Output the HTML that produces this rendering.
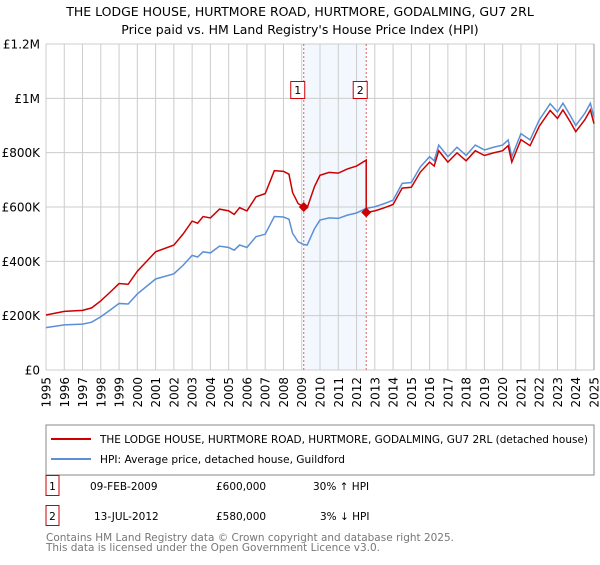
<!DOCTYPE html>
<html><head><meta charset="utf-8"><style>
body{margin:0;background:#fff;font-family:"Liberation Sans","DejaVu Sans",sans-serif}
svg text{font-family:"DejaVu Sans","Liberation Sans",sans-serif}
</style></head><body>
<svg id="c" width="600" height="560" xmlns="http://www.w3.org/2000/svg">
<text x="300" y="16" text-anchor="middle" font-size="12.5" fill="#000">THE LODGE HOUSE, HURTMORE ROAD, HURTMORE, GODALMING, GU7 2RL</text>
<text x="300" y="34" text-anchor="middle" font-size="12.5" fill="#000">Price paid vs. HM Land Registry's House Price Index (HPI)</text>
<g id="grid"></g><g id="series"></g><g id="axes"></g>
<rect x="46" y="425" width="548" height="50" fill="#fff" stroke="#888"/>
<line x1="51" y1="439" x2="91" y2="439" stroke="#cc0000" stroke-width="2"/>
<text x="100" y="443" font-size="10.5" textLength="488" lengthAdjust="spacingAndGlyphs">THE LODGE HOUSE, HURTMORE ROAD, HURTMORE, GODALMING, GU7 2RL (detached house)</text>
<line x1="51" y1="459" x2="91" y2="459" stroke="#5b8fd6" stroke-width="2"/>
<text x="100" y="463" font-size="10.5" textLength="245" lengthAdjust="spacingAndGlyphs">HPI: Average price, detached house, Guildford</text>
<g>
<rect x="46" y="475.5" width="13" height="20" fill="#fff" stroke="#cc0000"/><text x="52.5" y="490" text-anchor="middle" font-size="10.5">1</text>
<text x="90" y="490" font-size="10.5">09-FEB-2009</text><text x="216" y="490" font-size="10.5">£600,000</text><text x="313" y="490" font-size="10.5">30% ↑ HPI</text></g>
<g>
<rect x="46" y="505.5" width="13" height="20" fill="#fff" stroke="#cc0000"/><text x="52.5" y="520" text-anchor="middle" font-size="10.5">2</text>
<text x="94" y="520" font-size="10.5">13-JUL-2012</text><text x="216" y="520" font-size="10.5">£580,000</text><text x="320" y="520" font-size="10.5">3% ↓ HPI</text></g>
<text x="46" y="541" font-size="10.5" fill="#777" textLength="408" lengthAdjust="spacingAndGlyphs">Contains HM Land Registry data © Crown copyright and database right 2025.</text>
<text x="46" y="551" font-size="10.5" fill="#777" textLength="334" lengthAdjust="spacingAndGlyphs">This data is licensed under the Open Government Licence v3.0.</text>
</svg>
<script>
const years=[1995,1996,1997,1997.5,1998,1998.5,1999,1999.5,2000,2001,2002,2002.5,2003,2003.3,2003.6,2004,2004.5,2005,2005.3,2005.6,2006,2006.5,2007,2007.5,2008,2008.3,2008.5,2008.8,2009.11,2009.3,2009.7,2010,2010.5,2011,2011.5,2012,2012.53,2013,2013.5,2014,2014.5,2015,2015.5,2016,2016.25,2016.5,2017,2017.5,2018,2018.5,2019,2019.5,2020,2020.3,2020.5,2021,2021.5,2022,2022.6,2023,2023.3,2023.7,2024,2024.5,2024.8,2025];
const hpi=[156,166,169,176,196,220,245,243,280,335,354,385,422,416,435,431,456,451,441,460,451,491,500,565,563,555,503,472,462,460,520,552,560,558,570,578,595,601,612,625,687,690,748,785,770,828,785,820,790,828,810,820,828,847,785,870,847,920,980,950,982,937,900,945,982,930];
const saleYears=[2009.11,2012.53];
const salePrices=[600,580];
const yTicks=[0,200,400,600,800,1000,1200];
const yTickLabels=["£0","£200K","£400K","£600K","£800K","£1M","£1.2M"];
const xTicks=[];for(let y=1995;y<=2025;y++)xTicks.push(y);
const X0=46,X1=594,Y0=370,Y1=44;
const xs=v=>X0+(v-1995)/30*(X1-X0);
const ys=v=>Y0-v/1200*(Y0-Y1);
const NS="http://www.w3.org/2000/svg";
function mk(p,t,a){const e=document.createElementNS(NS,t);for(const k in a)e.setAttribute(k,a[k]);p.appendChild(e);return e;}
const grid=document.getElementById('grid'),ser=document.getElementById('series'),ax=document.getElementById('axes');
const sh=mk(grid,'rect',{x:xs(saleYears[0]),y:Y1,width:xs(saleYears[1])-xs(saleYears[0]),height:Y0-Y1,fill:'#eef3fd',opacity:0.7});


xTicks.forEach(y=>{const l=mk(grid,'line',{x1:xs(y),x2:xs(y),y1:Y1,y2:Y0,stroke:'#ccc'});


const t=mk(ax,'text',{x:0,y:0,'font-size':12,'text-anchor':'end',transform:`translate(${xs(y)+4.5},${Y0+7}) rotate(-90)`});t.textContent=y;

});
yTicks.forEach((v,i)=>{const l=mk(grid,'line',{x1:X0,x2:X1,y1:ys(v),y2:ys(v),stroke:'#ccc'});


const t=mk(ax,'text',{x:40,y:ys(v)+4.5,'font-size':12,'text-anchor':'end'});t.textContent=yTickLabels[i];

});
mk(grid,'line',{x1:X1,x2:X1,y1:Y1,y2:Y0,stroke:'#999'});
saleYears.forEach((s,i)=>{const l=mk(grid,'line',{x1:xs(s),x2:xs(s),y1:Y1,y2:Y0,stroke:'#e06060','stroke-dasharray':'2,2'});

});
const i1=years.indexOf(saleYears[0]),i2=years.indexOf(saleYears[1]);
const r0=salePrices[0]/hpi[i1],r2=salePrices[1]/hpi[i2];
const prop=[];
years.forEach((y,i)=>{if(i<i2)prop.push([y,hpi[i]*r0]);else if(i===i2){prop.push([y,hpi[i]*r0]);prop.push([y,hpi[i]*r2]);}else prop.push([y,hpi[i]*r2]);});
const hp=mk(ser,'polyline',{points:years.map((y,i)=>xs(y)+','+ys(hpi[i])).join(' '),fill:'none',stroke:'#5b8fd6','stroke-width':1.5});


const pp=mk(ser,'polyline',{points:prop.map(p=>xs(p[0])+','+ys(p[1])).join(' '),fill:'none',stroke:'#cc0000','stroke-width':1.5});


saleYears.forEach((s,i)=>{const cx=xs(s),cy=ys(salePrices[i]);
const d=mk(ser,'polygon',{points:`${cx},${cy-5} ${cx+5},${cy} ${cx},${cy+5} ${cx-5},${cy}`,fill:'#cc0000'});


const g=mk(ser,'g',{});


mk(g,'rect',{x:cx-13,y:81.5,width:14,height:17,fill:'#fff',stroke:'#cc0000'});
const t=mk(g,'text',{x:cx-6,y:94,'font-size':11,'text-anchor':'middle'});t.textContent=i+1;});
</script>
</body></html>
